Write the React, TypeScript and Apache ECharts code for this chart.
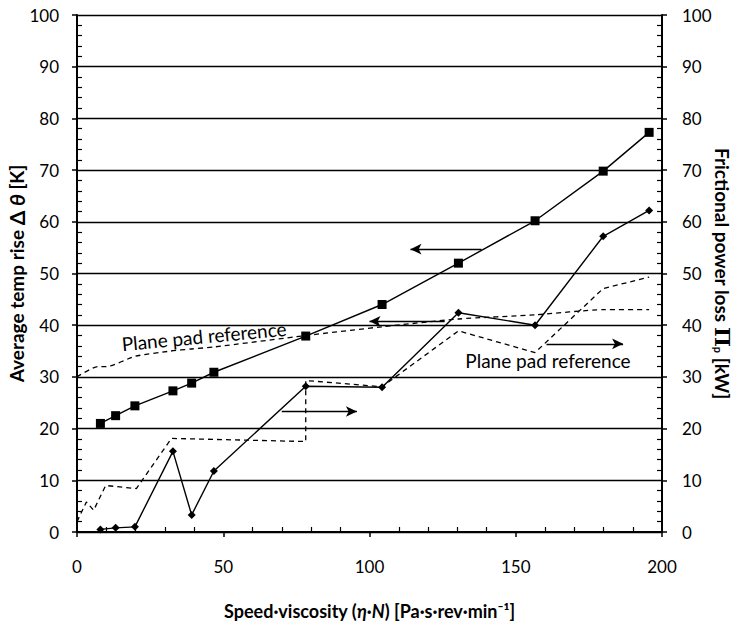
import React, { useEffect, useRef } from "react";
import * as echarts from "echarts";

// Measured series (shared speed·viscosity positions)
const speed = [8.0, 13.2, 19.8, 32.8, 39.2, 46.8, 78.2, 104.3, 130.4, 156.6, 179.9, 195.6];
const tempRise = [21.0, 22.5, 24.4, 27.3, 28.8, 30.9, 37.9, 44.0, 52.0, 60.2, 69.8, 77.3];
const powerLoss = [0.5, 0.8, 1.0, 15.6, 3.3, 11.8, 28.2, 28.0, 42.4, 40.0, 57.2, 62.2];

// Plane pad reference curves (dashed)
const tempRefSpeed = [0, 7, 10, 20, 32, 39, 47, 78.2, 104.3, 130.4, 156.6, 179.9, 195.6];
const tempRefValue = [30, 32, 32, 34, 35, 35.4, 35.8, 38, 39.7, 41.2, 42, 43, 43];
const powerRefSpeed = [0, 3.2, 5.7, 9.8, 20.3, 32.3, 78.2, 78.2, 104.3, 130.4, 156.6, 179.9, 195.6];
const powerRefValue = [2, 5.8, 4.2, 9.0, 8.4, 18.1, 17.5, 29.3, 28.1, 38.9, 34.7, 47.1, 49.3];

// Arrow annotations (data coordinates): start x, end x, y
const arrowFromX = [138.3, 125.7, 160.5, 70.0];
const arrowToX = [114.0, 100.0, 186.7, 95.7];
const arrowY = [54.7, 40.75, 36.4, 23.3];

const FONT = 'Lato, "Open Sans", "Noto Sans", sans-serif';

export default function App() {
  const ref = useRef<HTMLDivElement>(null);
  useEffect(() => {
    if (!ref.current) return;
    const chart = echarts.init(ref.current, undefined, { renderer: "svg" });
    const axisLine = { show: true, lineStyle: { color: "#000", width: 2 } };
    const pair = (xs: number[], ys: number[]) => xs.map((x, i) => [x, ys[i]]);
    const arrowData = arrowFromX.map((x, i) => [
      { coord: [x, arrowY[i]] },
      { coord: [arrowToX[i], arrowY[i]] },
    ]);
    chart.setOption({
      animation: false,
      backgroundColor: "#fff",
      textStyle: { fontFamily: FONT },
      grid: { left: 77, right: 76, top: 15, bottom: 98, containLabel: false, outerBoundsMode: "none" },
      xAxis: {
        type: "value",
        min: 0,
        max: 200,
        interval: 50,
        axisLine,
        axisTick: { show: true, length: 5, lineStyle: { color: "#000", width: 1.5 } },
        minorTick: { show: true, splitNumber: 5, length: -5, lineStyle: { color: "#000", width: 1.2 } },
        splitLine: { show: false },
        axisLabel: { color: "#000", fontSize: 17, margin: 26, fontFamily: FONT },
        name: "Speed·viscosity ({i|η}·{i|N}) [Pa·s·rev·min⁻¹]",
        nameLocation: "middle",
        nameGap: 70,
        nameTextStyle: {
          color: "#000",
          fontSize: 18,
          fontWeight: "bold",
          fontFamily: FONT,
          rich: { i: { fontStyle: "italic", fontWeight: "bold", fontSize: 18, color: "#000", fontFamily: FONT } },
        },
      },
      yAxis: [
        {
          type: "value",
          min: 0,
          max: 100,
          interval: 10,
          position: "left",
          axisLine,
          axisTick: { show: true, length: 5, lineStyle: { color: "#000", width: 1.5 } },
          minorTick: { show: true, splitNumber: 5, length: -5, lineStyle: { color: "#000", width: 1.2 } },
          splitLine: { show: true, lineStyle: { color: "#000", width: 1.3 } },
          axisLabel: { color: "#000", fontSize: 17, margin: 18, fontFamily: FONT },
          name: "Average temp rise {g|Δ} {i|θ} [K]",
          nameLocation: "middle",
          nameGap: 50,
          nameMoveOverlap: false,
          nameTextStyle: {
            color: "#000",
            fontSize: 19,
            fontWeight: "bold",
            fontFamily: FONT,
            rich: {
              g: { fontWeight: "bold", fontSize: 21, color: "#000", fontFamily: FONT },
              i: { fontStyle: "italic", fontWeight: "bold", fontSize: 21, color: "#000", fontFamily: FONT },
            },
          },
        },
        {
          type: "value",
          min: 0,
          max: 100,
          interval: 10,
          position: "right",
          axisLine,
          axisTick: { show: true, length: 5, lineStyle: { color: "#000", width: 1.5 } },
          minorTick: { show: true, splitNumber: 5, length: -5, lineStyle: { color: "#000", width: 1.2 } },
          splitLine: { show: false },
          axisLabel: { color: "#000", fontSize: 17, margin: 20, fontFamily: FONT },
          name: "Frictional power loss {pi|Π}{sub|p} [kW]",
          nameLocation: "middle",
          nameGap: 50,
          nameRotate: -90,
          nameMoveOverlap: false,
          nameTextStyle: {
            color: "#000",
            fontSize: 19,
            fontWeight: "bold",
            fontFamily: FONT,
            rich: {
              pi: { fontSize: 21, fontWeight: "bold", color: "#000", fontFamily: "DejaVu Serif" },
              sub: { fontSize: 11, fontWeight: "bold", color: "#000", fontFamily: FONT, padding: [8, 0, 0, 0] },
            },
          },
        },
      ],
      series: [
        {
          name: "Temp rise",
          type: "line",
          yAxisIndex: 0,
          data: pair(speed, tempRise),
          symbol: "rect",
          symbolSize: 9,
          itemStyle: { color: "#000" },
          lineStyle: { color: "#000", width: 1.4 },
          z: 5,
          markLine: {
            silent: true,
            symbol: ["none", "arrow"],
            symbolSize: [8, 11],
            label: { show: false },
            lineStyle: { color: "#000", width: 1.3, type: "solid" },
            data: arrowData,
          },
        },
        {
          name: "Power loss",
          type: "line",
          yAxisIndex: 1,
          data: pair(speed, powerLoss),
          symbol: "diamond",
          symbolSize: 8,
          itemStyle: { color: "#000" },
          lineStyle: { color: "#000", width: 1.4 },
          z: 5,
        },
        {
          name: "Temp ref",
          type: "line",
          yAxisIndex: 0,
          data: pair(tempRefSpeed, tempRefValue),
          symbol: "none",
          smooth: 0.2,
          lineStyle: { color: "#000", width: 1.3, type: [5, 4] },
        },
        {
          name: "Power ref",
          type: "line",
          yAxisIndex: 1,
          data: pair(powerRefSpeed, powerRefValue),
          symbol: "none",
          lineStyle: { color: "#000", width: 1.3, type: [5, 4] },
        },
      ],
      graphic: [
        {
          type: "text",
          x: 204,
          y: 336,
          rotation: 0.094,
          style: { text: "Plane pad reference", fontSize: 19, fontFamily: FONT, fill: "#000", align: "center", verticalAlign: "middle" },
        },
        {
          type: "text",
          x: 548,
          y: 360,
          style: { text: "Plane pad reference", fontSize: 19, fontFamily: FONT, fill: "#000", align: "center", verticalAlign: "middle" },
        },
      ],
    });
    return () => chart.dispose();
  }, []);
  return <div ref={ref} style={{ position: "absolute", left: 0, top: 0, width: 738, height: 630 }} />;
}
